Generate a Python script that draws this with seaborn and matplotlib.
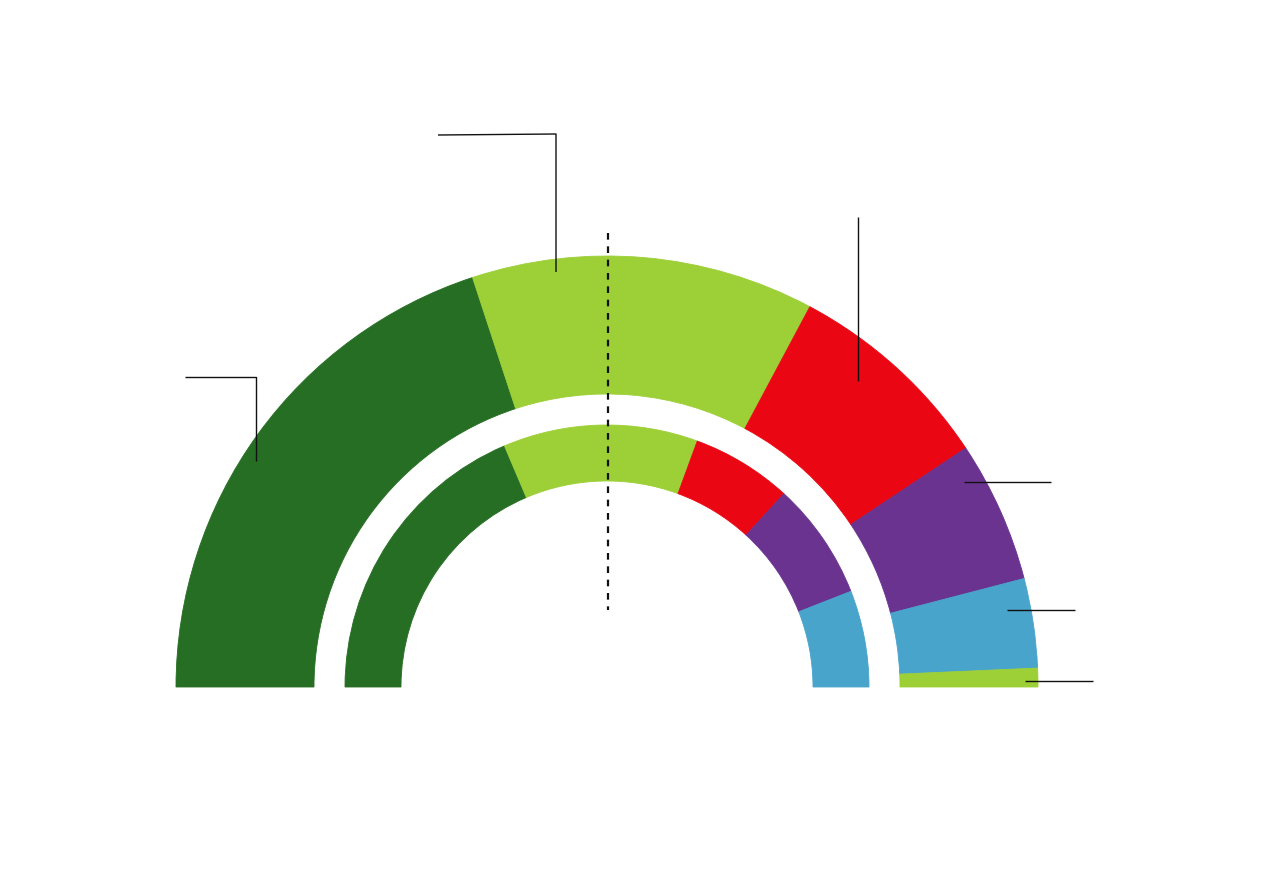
import matplotlib
matplotlib.use("Agg")
import matplotlib.pyplot as plt
import seaborn as sns

parties = ["Dark green", "Light green", "Red", "Purple", "Blue", "Light green small"]
outer_values = [39.9, 25.7, 15.7, 10.6, 6.7, 1.4]
outer_colors = ["#266E23", "#9DCF37", "#EA0713", "#6A3390", "#48A4CB", "#9DCF37"]
inner_values = [37.2, 24.0, 12.4, 14.5, 11.9]
inner_colors = ["#266E23", "#9DCF37", "#EA0713", "#6A3390", "#48A4CB"]

sns.set_theme(style="white")

W, H = 1280, 872
fig = plt.figure(figsize=(W / 100, H / 100), dpi=100)
ax = fig.add_axes([0, 0, 1, 1])

cx, cy = 607, H - 687

def half_donut(values, colors, r_out, width):
    vals = list(values) + [sum(values)]
    cols = list(colors) + ["none"]
    wedges, _ = ax.pie(vals, colors=cols, startangle=180, counterclock=False,
                       radius=r_out, center=(cx, cy),
                       wedgeprops=dict(width=width, linewidth=0.6))
    for w, c in zip(wedges, cols):
        w.set_edgecolor(c)
    wedges[-1].set_visible(False)

half_donut(outer_values, outer_colors, 431, 138)
half_donut(inner_values, inner_colors, 262, 56)

def px(points):
    xs = [p[0] for p in points]
    ys = [H - p[1] for p in points]
    return xs, ys

leader_lines = [
    [(438, 135), (556, 134), (556, 272)],
    [(185, 377), (256, 377), (256, 461)],
    [(858, 217), (858, 381)],
    [(964, 482), (1051, 482)],
    [(1007, 610), (1075, 610)],
    [(1025, 681), (1093, 681)],
]
for pts in leader_lines:
    xs, ys = px(pts)
    ax.plot(xs, ys, color="#111111", lw=1.0, solid_capstyle="butt")

xs, ys = px([(608, 233), (608, 610)])
ax.plot(xs, ys, color="#111111", lw=1.6, linestyle=(0, (3, 3)))

ax.set_xlim(0, W)
ax.set_ylim(0, H)
ax.set_aspect("auto")
ax.axis("off")
fig.savefig("out.png", dpi=100, facecolor="white")
